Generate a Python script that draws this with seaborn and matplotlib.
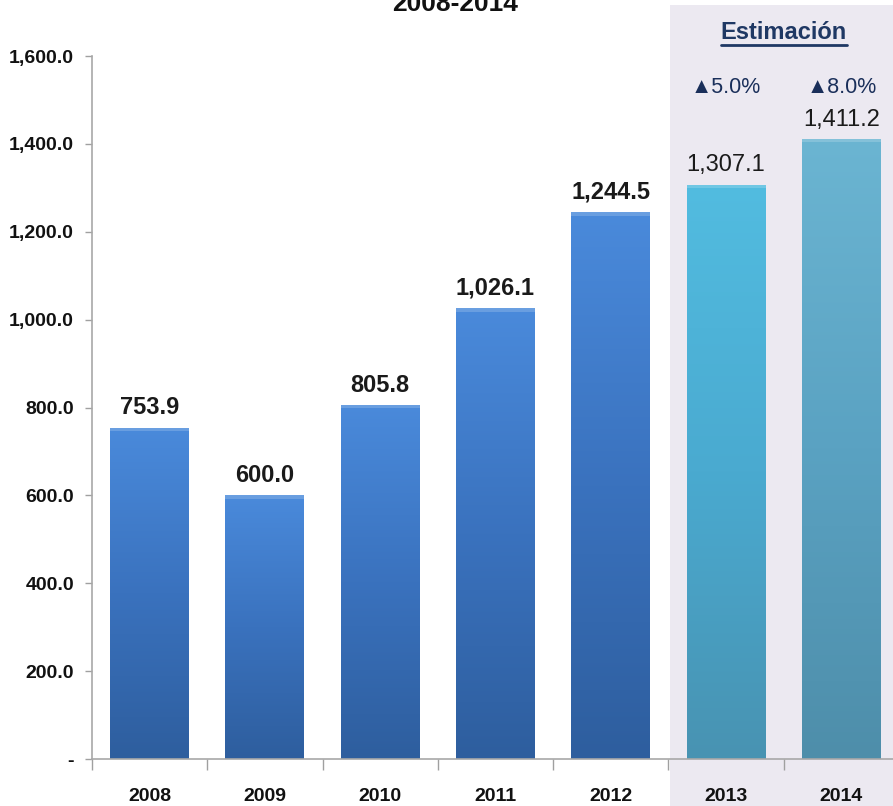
import numpy as np
import pandas as pd
import matplotlib
matplotlib.use("Agg")
import matplotlib.pyplot as plt
import seaborn as sns
from matplotlib.patches import Rectangle
from matplotlib.lines import Line2D
from matplotlib.colors import LinearSegmentedColormap

# Data
years = ["2008", "2009", "2010", "2011", "2012", "2013", "2014"]
values = [753.9, 600.0, 805.8, 1026.1, 1244.5, 1307.1, 1411.2]
growth = ["", "", "", "", "", "\u25B25.0%", "\u25B28.0%"]
estimated = [False, False, False, False, False, True, True]

sns.set_theme(style="white")
plt.rcParams['font.family'] = ['Liberation Sans', 'DejaVu Sans']

df = pd.DataFrame({"year": years, "value": values})

fig = plt.figure(figsize=(8.93, 8.06), dpi=100)
fig.patch.set_facecolor("white")

# shaded "Estimacion" band behind the axes
fig.patches.append(Rectangle((670 / 893, 0), 1, 1 - 5 / 806, transform=fig.transFigure,
                             facecolor="#ECE9F1", edgecolor="none", zorder=0))

ax = fig.add_axes([92 / 893, 1 - 759 / 806, 807 / 893, 703 / 806])
ax.set_zorder(2)
ax.patch.set_visible(False)

sns.barplot(data=df, x="year", y="value", width=0.685, color="#3F7CCB",
            edgecolor="none", ax=ax)

# gradient fill for each bar
grad_hist = LinearSegmentedColormap.from_list("hist", ["#2E5E9E", "#3A72BE", "#4A8ADB"])
grad_2013 = LinearSegmentedColormap.from_list("e13", ["#4893B2", "#4AAAD0", "#52BCE0"])
grad_2014 = LinearSegmentedColormap.from_list("e14", ["#4E8EAA", "#5AA2C2", "#6BB5D2"])
ramp = np.linspace(0, 1, 256).reshape(-1, 1)
for i, bar in enumerate(list(ax.patches)):
    x0, w, h = bar.get_x(), bar.get_width(), bar.get_height()
    cmap = grad_hist if not estimated[i] else (grad_2013 if years[i] == "2013" else grad_2014)
    bar.set_facecolor("none")
    img = ax.imshow(ramp, cmap=cmap, aspect="auto", origin="lower",
                    extent=[x0, x0 + w, 0, h], zorder=2)
    img.set_clip_path(bar)
    # thin light edge on top for a bevel look
    ax.add_patch(Rectangle((x0, h - 8), w, 8, facecolor="white", alpha=0.18,
                           edgecolor="none", zorder=3))

ax.set_xlim(-0.5, 6.5)
ax.set_ylim(0, 1600)

# value labels
for i, v in enumerate(values):
    ax.annotate(f"{v:,.1f}", (i, v), xytext=(0, 6), textcoords="offset points",
                ha="center", va="bottom", fontsize=17,
                fontweight="normal" if estimated[i] else "bold",
                color="#1A1A1A", zorder=5)

# growth labels for the estimates
for i, g in enumerate(growth):
    if g:
        ax.text(i, 1528, g, ha="center", va="center", fontsize=15.5,
                color="#1A2F5A", clip_on=False, zorder=5)

est = ax.text(5.5, 1654, "Estimación", ha="center", va="center", fontsize=17,
              fontweight="bold", color="#1F3864", clip_on=False, zorder=5)

# axes styling
yticks = np.arange(0, 1601, 200)
ax.set_yticks(yticks)
ax.set_yticklabels(["-" if t == 0 else f"{t:,.1f}" for t in yticks],
                   fontsize=14, fontweight="bold", color="#111111")
ax.tick_params(axis="y", left=True, length=5, width=1, color="#A0A0A0", pad=8)

ax.set_xticks(np.arange(-0.5, 6.6, 1), minor=True)
ax.tick_params(axis="x", which="minor", bottom=True, length=8, width=1, color="#A0A0A0")
ax.tick_params(axis="x", which="major", bottom=False, length=0, pad=21,
               labelsize=14)
for lbl in ax.get_xticklabels():
    lbl.set_fontweight("bold")
    lbl.set_color("#111111")

ax.set_xlabel("")
ax.set_ylabel("")
for side in ["top", "right"]:
    ax.spines[side].set_visible(False)
for side in ["left", "bottom"]:
    ax.spines[side].set_color("#A8A8A8")
    ax.spines[side].set_linewidth(1.2)

# cut-off title at the top (as in the source image)
fig.text(0.51, 1 - 11 / 806, "2008-2014", ha="center", va="baseline",
         fontsize=19, fontweight="bold", color="#111111")

# underline the "Estimacion" header
fig.canvas.draw()
bb = est.get_window_extent(renderer=fig.canvas.get_renderer())
uy = bb.y0 - 1
fig.lines.append(Line2D([bb.x0 / fig.bbox.width, bb.x1 / fig.bbox.width],
                        [uy / fig.bbox.height, uy / fig.bbox.height],
                        transform=fig.transFigure, color="#1F3864", linewidth=2,
                        zorder=5))

fig.savefig("out.png", dpi=100)
